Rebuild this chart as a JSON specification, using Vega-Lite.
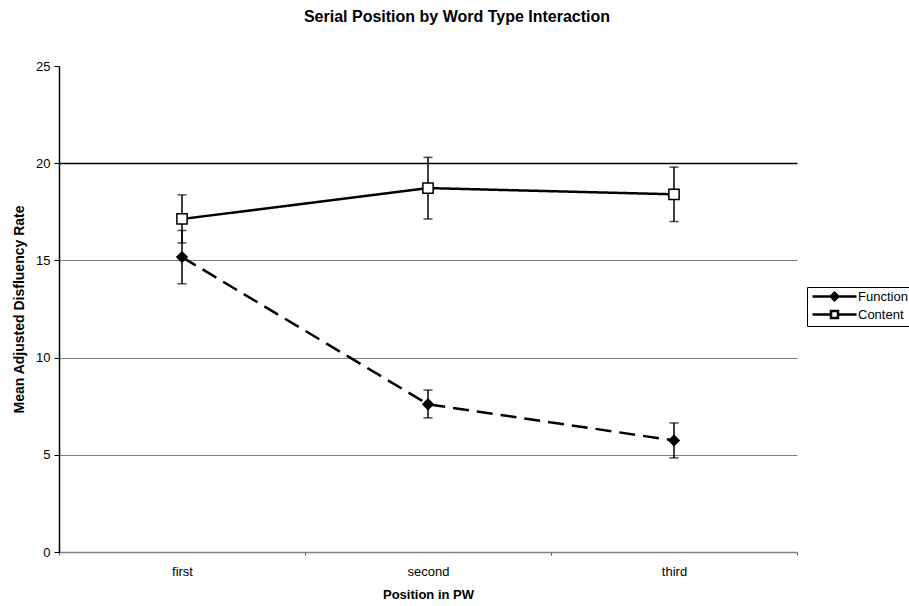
{
  "$schema": "https://vega.github.io/schema/vega-lite/v6.json",
  "width": 738,
  "height": 486,
  "autosize": "none",
  "padding": {"left": 59, "top": 66, "right": 112, "bottom": 54},
  "background": "white",
  "config": {
    "font": "Liberation Sans",
    "view": {"stroke": null},
    "axis": {"labelFont": "Liberation Sans", "titleFont": "Liberation Sans", "labelColor": "black", "titleColor": "black"}
  },
  "title": {
    "text": "Serial Position by Word Type Interaction",
    "font": "Liberation Sans",
    "fontSize": 16,
    "fontWeight": "bold",
    "color": "black",
    "frame": "group",
    "anchor": "middle",
    "baseline": "alphabetic",
    "offset": 22,
    "dx": 29
  },
  "data": {
    "values": [
      {"position": "first", "type": "Function", "mean": 15.17, "lo": 13.8, "hi": 16.54},
      {"position": "second", "type": "Function", "mean": 7.6, "lo": 6.9, "hi": 8.33},
      {"position": "third", "type": "Function", "mean": 5.74, "lo": 4.84, "hi": 6.64},
      {"position": "first", "type": "Content", "mean": 17.13, "lo": 15.9, "hi": 18.37},
      {"position": "second", "type": "Content", "mean": 18.72, "lo": 17.13, "hi": 20.3},
      {"position": "third", "type": "Content", "mean": 18.4, "lo": 17.0, "hi": 19.8}
    ]
  },
  "encoding": {
    "x": {
      "field": "position",
      "type": "nominal",
      "sort": ["first", "second", "third"],
      "scale": {"type": "band", "paddingInner": 0, "paddingOuter": 0},
      "axis": {
        "title": "Position in PW",
        "labelAngle": 0,
        "labelFontSize": 13,
        "labelPadding": 10,
        "titleFontSize": 13,
        "titleFontWeight": "bold",
        "titlePadding": 10,
        "tickBand": "extent",
        "tickSize": 3,
        "tickColor": "#555555",
        "domainColor": "#808080",
        "domainWidth": 1.5,
        "grid": false
      }
    }
  },
  "layer": [
    {
      "mark": {"type": "rule", "color": "black", "strokeWidth": 1.5},
      "encoding": {
        "y": {"field": "lo", "type": "quantitative"},
        "y2": {"field": "hi"}
      }
    },
    {
      "mark": {"type": "tick", "color": "black", "size": 9, "thickness": 1.5},
      "encoding": {"y": {"field": "lo", "type": "quantitative"}}
    },
    {
      "mark": {"type": "tick", "color": "black", "size": 9, "thickness": 1.5},
      "encoding": {"y": {"field": "hi", "type": "quantitative"}}
    },
    {
      "mark": {"type": "line", "color": "black", "strokeWidth": 2.5},
      "encoding": {
        "y": {"field": "mean", "type": "quantitative"},
        "detail": {"field": "type"},
        "strokeDash": {
          "field": "type",
          "type": "nominal",
          "scale": {"domain": ["Content", "Function"], "range": [[1, 0], [16, 8]]},
          "legend": null
        }
      }
    },
    {
      "mark": {"type": "point", "filled": false, "stroke": "black", "strokeWidth": 1.5, "opacity": 1, "size": 105},
      "encoding": {
        "y": {
          "field": "mean",
          "type": "quantitative",
          "scale": {"domain": [0, 25], "nice": false, "zero": true},
          "axis": {
            "title": "Mean Adjusted Disfluency Rate",
            "values": [0, 5, 10, 15, 20, 25],
            "labelFontSize": 13,
            "labelPadding": 4,
            "titleFontSize": 14,
            "titleFontWeight": "bold",
            "titlePadding": 9,
            "tickSize": 5,
            "tickColor": "black",
            "domainColor": "black",
            "domainWidth": 1.5,
            "grid": true,
            "gridColor": {"condition": {"test": "datum.value === 20", "value": "black"}, "value": "#808080"},
            "gridWidth": {"condition": {"test": "datum.value === 20", "value": 1.5}, "value": 1},
            "gridOpacity": {"condition": {"test": "datum.value === 25 || datum.value === 0", "value": 0}, "value": 1}
          }
        },
        "shape": {
          "field": "type",
          "type": "nominal",
          "scale": {"domain": ["Content", "Function"], "range": ["square", "diamond"]},
          "legend": null
        },
        "fill": {
          "field": "type",
          "type": "nominal",
          "scale": {"domain": ["Function", "Content"], "range": ["black", "white"]},
          "legend": {
            "title": null,
            "orient": "none",
            "legendX": 748,
            "legendY": 221,
            "padding": 3,
            "strokeColor": "black",
            "fillColor": "white",
            "rowPadding": 0,
            "labelFontSize": 13,
            "labelFont": "Liberation Sans",
            "labelColor": "black",
            "symbolSize": 100,
            "symbolOffset": 18,
            "labelOffset": 17,
            "symbolStrokeColor": "black",
            "symbolStrokeWidth": 2.5,
            "symbolOpacity": 1,
            "encode": {
              "symbols": {
                "update": {
                  "shape": {"signal": "datum.value === 'Function' ? 'M-4.4,0H4.4M-0.75,0L0,-0.75L0.75,0L0,0.75Z' : 'M-4.4,0H-0.7M0.7,0H4.4M-0.7,-0.7H0.7V0.7H-0.7Z'"},
                  "stroke": {"value": "black"},
                  "strokeWidth": {"value": 2.5}
                }
              }
            }
          }
        }
      }
    }
  ]
}
